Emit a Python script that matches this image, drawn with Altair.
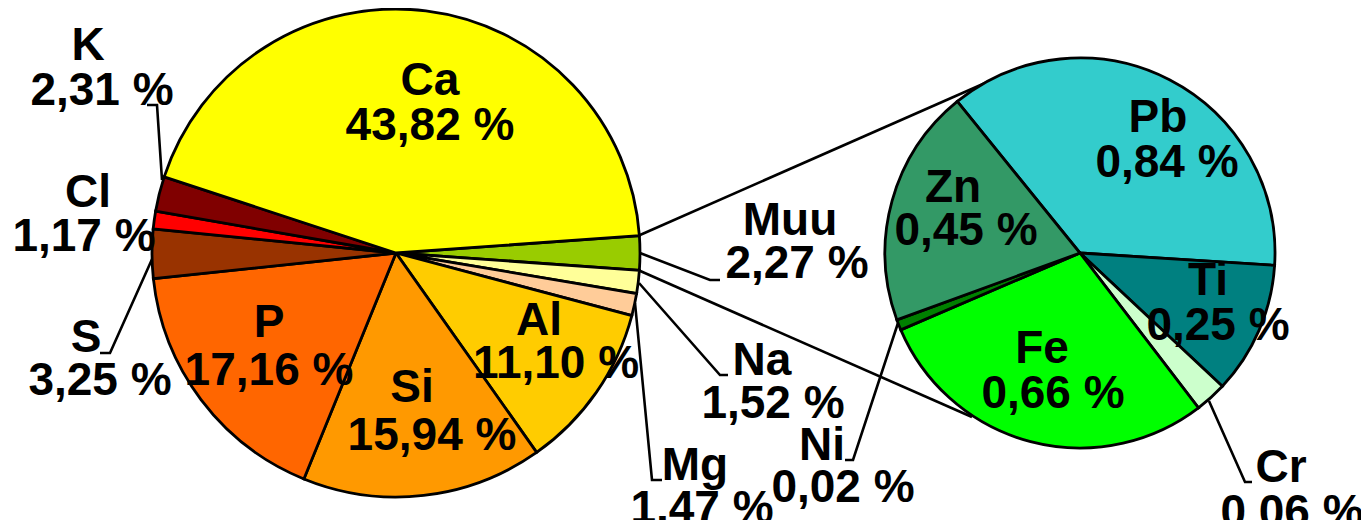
import math
import altair as alt
import pandas as pd

# ---------------- data ----------------
main_names = ["Muu", "Na", "Mg", "Al", "Si", "P", "S", "Cl", "K", "Ca"]
main_values = [2.27, 1.52, 1.47, 11.10, 15.94, 17.16, 3.25, 1.17, 2.31, 43.82]

sub_names = ["Pb", "Ti", "Cr", "Fe", "Ni", "Zn"]
sub_values = [0.84, 0.25, 0.06, 0.66, 0.02, 0.45]

title_text = "Näyte II"

# ---------------- style / layout ----------------
main_colors = ["#99CC00", "#FFFF99", "#FFCC99", "#FFCC00", "#FF9900",
               "#FF6600", "#993300", "#FF0000", "#800000", "#FFFF00"]
sub_colors = ["#33CCCC", "#008080", "#CCFFCC", "#00FF00", "#008000", "#339966"]

FONT = "Liberation Sans"
FS = 46
W, H = 1353, 512
XS = alt.Scale(domain=[8, 8 + W], nice=False, zero=False)
YS = alt.Scale(domain=[8 + H, 8], nice=False, zero=False)

main_center = (396, 253)
main_r = 244
sub_center = (1080, 253)
sub_r = 195

main_start = math.radians(90 - main_values[0] * 3.6 / 2)
sub_start = math.radians(-39)

# label positions (name line, value line) in picture pixels
label_pos = {
    "Ca": (430, 95, 430, 140),
    "P": (269, 337, 269, 385),
    "Si": (412, 402, 432, 450),
    "Al": (539, 335, 556, 378),
    "S": (86, 352, 100, 395),
    "Cl": (88, 207, 84, 251),
    "K": (88, 60, 102, 105),
    "Muu": (790, 235, 797, 278),
    "Na": (762, 375, 773, 418),
    "Mg": (695, 480, 702, 523),
    "Pb": (1158, 132, 1167, 177),
    "Zn": (953, 202, 966, 245),
    "Ti": (1208, 295, 1218, 340),
    "Fe": (1042, 363, 1053, 408),
    "Ni": (822, 460, 843, 502),
    "Cr": (1281, 482, 1292, 527),
}

leaders = {
    "K": [(162, 180), (157, 105), (147, 105)],
    "S": [(153, 257), (110, 353), (100, 353)],
    "Muu": [(640, 253), (710, 280), (720, 280)],
    "Na": [(639, 283), (720, 375), (728, 375)],
    "Mg": [(635, 303), (652, 480), (662, 480)],
    "Ni": [(898, 323), (853, 460), (845, 460)],
    "Cr": [(1209, 401), (1245, 482), (1252, 482)],
}

series_lines = [((640, 235), (992, 80)), ((638, 270), (972, 417))]


def fmt(v):
    return f"{v:.2f}".replace(".", ",") + " %"


main_df = pd.DataFrame({"name": main_names, "value": main_values,
                        "idx": list(range(len(main_names))), "color": main_colors})
sub_df = pd.DataFrame({"name": sub_names, "value": sub_values,
                       "idx": list(range(len(sub_names))), "color": sub_colors})

rows = []
for n, v in list(zip(main_names, main_values)) + list(zip(sub_names, sub_values)):
    nx, ny, vx, vy = label_pos[n]
    rows.append({"t": n, "x": nx, "y": ny})
    rows.append({"t": fmt(v), "x": vx, "y": vy})
rows.append({"t": title_text, "x": -2, "y": 7})
lab_df = pd.DataFrame(rows)

lrows = []
for k, pts in leaders.items():
    for i, (px, py) in enumerate(pts):
        lrows.append({"id": k, "i": i, "x": px, "y": py})
lead_df = pd.DataFrame(lrows)

ser_df = pd.DataFrame([{"x": a[0], "y": a[1], "x2": b[0], "y2": b[1]} for a, b in series_lines])

main_pie = alt.Chart(main_df).mark_arc(
    outerRadius=main_r, stroke="black", strokeWidth=2.8
).encode(
    theta=alt.Theta("value:Q", stack=True,
                    scale=alt.Scale(range=[main_start, main_start + 2 * math.pi])),
    order=alt.Order("idx:Q"),
    color=alt.Color("color:N", scale=None),
    x=alt.datum(main_center[0], type="quantitative", scale=XS, axis=None),
    y=alt.datum(main_center[1], type="quantitative", scale=YS, axis=None),
)

sub_pie = alt.Chart(sub_df).mark_arc(
    outerRadius=sub_r, stroke="black", strokeWidth=2.8
).encode(
    theta=alt.Theta("value:Q", stack=True,
                    scale=alt.Scale(range=[sub_start, sub_start + 2 * math.pi])),
    order=alt.Order("idx:Q"),
    color=alt.Color("color:N", scale=None),
    x=alt.datum(sub_center[0], type="quantitative", scale=XS, axis=None),
    y=alt.datum(sub_center[1], type="quantitative", scale=YS, axis=None),
)

ser = alt.Chart(ser_df).mark_rule(color="black", strokeWidth=2.6).encode(
    x=alt.X("x:Q", scale=XS, axis=None), y=alt.Y("y:Q", scale=YS, axis=None),
    x2="x2:Q", y2="y2:Q",
)

lead = alt.Chart(lead_df).mark_line(color="black", strokeWidth=2.6).encode(
    x=alt.X("x:Q", scale=XS, axis=None), y=alt.Y("y:Q", scale=YS, axis=None),
    detail="id:N", order="i:Q",
)

labels = alt.Chart(lab_df).mark_text(
    font=FONT, fontSize=FS, fontWeight="bold", color="black",
    align="center", baseline="alphabetic"
).encode(
    x=alt.X("x:Q", scale=XS, axis=None), y=alt.Y("y:Q", scale=YS, axis=None),
    text="t:N",
)

chart = alt.layer(ser, lead, main_pie, sub_pie, labels).resolve_scale(
    theta="independent"
).properties(
    width=W, height=H, autosize=alt.AutoSizeParams(type="none"), padding=0,
    background="white",
).configure_view(strokeWidth=0)

chart.save("out.html", embed_options={"renderer": "svg", "actions": False})
